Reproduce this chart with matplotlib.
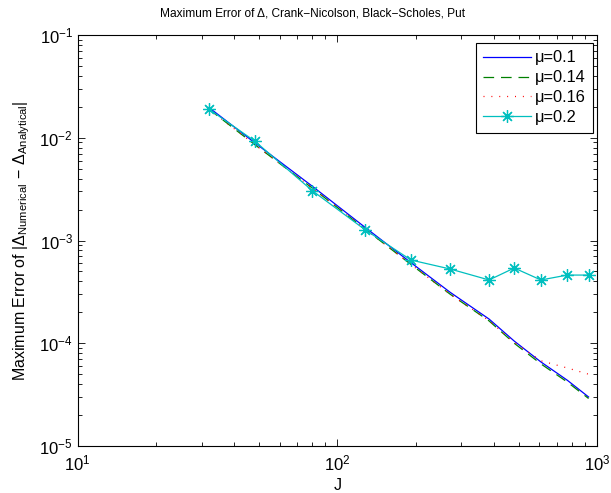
import numpy as np
import matplotlib.pyplot as plt

plt.rcParams['font.family'] = ['Liberation Sans', 'DejaVu Sans']
plt.rcParams['mathtext.fontset'] = 'custom'
plt.rcParams['mathtext.rm'] = 'Liberation Sans'
plt.rcParams['mathtext.it'] = 'Liberation Sans:italic'
plt.rcParams['mathtext.default'] = 'regular'

# grid sizes and maximum errors of Delta for each mu
J = [32, 48, 80, 128, 192, 272, 384, 480, 608, 768, 928]
err_mu010 = [1.97e-2, 8.97e-3, 3.38e-3, 1.34e-3, 6.09e-4, 3.13e-4, 1.72e-4, 1.05e-4, 6.58e-5, 4.37e-5, 3.0e-5]
err_mu014 = [1.90e-2, 8.6e-3, 3.24e-3, 1.29e-3, 5.85e-4, 3.0e-4, 1.65e-4, 1.0e-4, 6.3e-5, 4.2e-5, 2.9e-5]
err_mu016 = [1.90e-2, 8.6e-3, 3.24e-3, 1.29e-3, 5.85e-4, 3.0e-4, 1.66e-4, 1.02e-4, 6.75e-5, 5.75e-5, 5.0e-5]
err_mu020 = [1.9e-2, 9.3e-3, 3.06e-3, 1.27e-3, 6.46e-4, 5.28e-4, 4.13e-4, 5.4e-4, 4.13e-4, 4.61e-4, 4.61e-4]
labels = ['\u03bc=0.1', '\u03bc=0.14', '\u03bc=0.16', '\u03bc=0.2']

fig = plt.figure(figsize=(6.11, 4.93), dpi=100)
ax = fig.add_axes([0.1272, 0.0953, 0.8499, 0.8337])

lw = 0.9
ax.loglog(J, err_mu010, color=(0, 0, 1), lw=lw, label=labels[0])
ax.loglog(J, err_mu014, color=(0, 0.5, 0), lw=lw, ls=(0, (8.5, 5.5)), label=labels[1])
ax.loglog(J, err_mu016, color=(1, 0, 0), lw=lw, ls=(0, (0.8, 5.5)), label=labels[2])
ax.loglog(J, err_mu020, color=(0, 0.75, 0.75), lw=lw, marker=(8, 2, 0),
          ms=9, mew=0.9, label=labels[3])

ax.set_xlim(10, 1000)
ax.set_ylim(1e-5, 1e-1)

ax.tick_params(which='both', direction='in', top=True, right=True,
               labelsize=12, width=0.6)
ax.tick_params(which='major', length=5)
ax.tick_params(which='minor', length=3)
ax.tick_params(axis='x', which='major', pad=5.5)
for s in ax.spines.values():
    s.set_linewidth(0.8)

fig.text(313 / 611, 1 - 14 / 493,
         'Maximum Error of \u0394, Crank\u2212Nicolson, Black\u2212Scholes, Put',
         fontsize=8.6, ha='center', va='center')
ax.set_xlabel('J', fontsize=11.5, labelpad=3)
ax.set_ylabel(r'Maximum Error of $|\Delta_{Numerical}\,-\,\Delta_{Analytical}|$',
              fontsize=11.5, labelpad=5)

leg = ax.legend(loc='upper right', bbox_to_anchor=(0.992, 0.9805),
                fontsize=11.8, handlelength=2.9, handletextpad=0.25,
                fancybox=False, edgecolor='black', framealpha=1,
                borderaxespad=0, borderpad=0.45, labelspacing=0.3)
leg.get_frame().set_linewidth(0.8)

fig.savefig('out.png', dpi=100)
